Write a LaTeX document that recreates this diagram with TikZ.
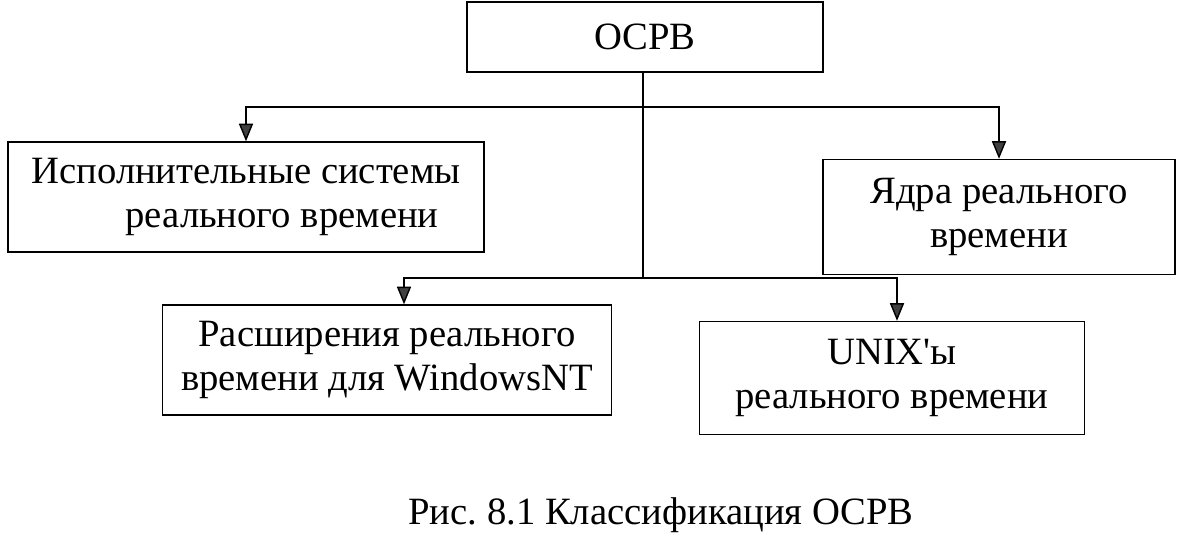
\documentclass[tikz,border=0pt]{standalone}
\usepackage{fontspec}
\setmainfont{Liberation Serif}
\usetikzlibrary{arrows.meta,calc}

\begin{document}
\begin{tikzpicture}[x=0.02cm, y=-0.02cm,
	box/.style={draw, line width=0.8pt, inner sep=0pt, align=center, font=\fontsize{22}{25.5}\selectfont},
	arr/.style={line width=0.8pt, -{Triangle[length=10pt, width=8pt, fill=black!75]}}]
\useasboundingbox (0,0) rectangle (1183,543);
\node[box, minimum width=7.12cm, minimum height=1.4cm] (osrv) at (645,37) {ОСРВ};
\node[box, minimum width=9.52cm, minimum height=2.2cm, align=right] (exec) at (246,197) {Исполнительные системы\\реального времени\hspace*{0.44cm}};
\node[box, minimum width=7.04cm, minimum height=2.3cm] (kern) at (999,217) {Ядра реального\\времени};
\node[box, minimum width=8.98cm, minimum height=2.2cm] (winnt) at (387,360) {Расширения реального\\времени для WindowsNT};
\node[box, minimum width=7.7cm, minimum height=2.26cm] (unix) at (892,378) {UNIX\textquotesingle ы\\реального времени};
\node[font=\fontsize{22}{25.5}\selectfont] (capt) at (661,515) {Рис.\ 8.1 Классификация ОСРВ};
\coordinate (bus1) at (643,107);
\coordinate (bus2) at (643,278);
\draw[line width=0.8pt] (osrv.south -| bus1) -- (bus2);
\draw[arr] (bus1) -| (exec.north);
\draw[arr] (bus1) -| (kern.north);
\draw[arr] (bus2) -| ($(winnt.north)+(17,0)$);
\draw[arr] (bus2) -| ($(unix.north)+(5,0)$);
\end{tikzpicture}
\end{document}
